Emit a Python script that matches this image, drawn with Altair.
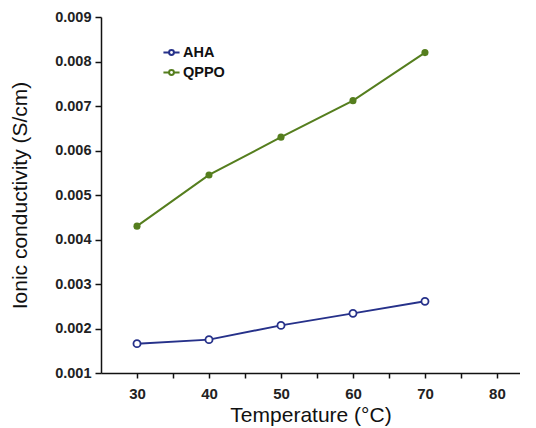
import altair as alt
import pandas as pd

temps = [30, 40, 50, 60, 70]
aha = [0.00166, 0.00175, 0.00207, 0.00234, 0.00261]
qppo = [0.00430, 0.00545, 0.00630, 0.00712, 0.00820]
series = ["AHA", "QPPO"]
colors = ["#26318A", "#557E1E"]
x_ticks = [30, 35, 40, 45, 50, 55, 60, 65, 70, 75, 80]
y_ticks = [0.001, 0.002, 0.003, 0.004, 0.005, 0.006, 0.007, 0.008, 0.009]

df = pd.DataFrame(
    {"T": temps * 2, "sigma": aha + qppo, "series": ["AHA"] * len(temps) + ["QPPO"] * len(temps)}
)

FONT = "Liberation Sans"
LEGEND_SYMBOL = (
    "M-1,0H-0.3M0.3,0H1"
    "M-0.3,0A0.3,0.3 0 1,0 0.3,0A0.3,0.3 0 1,0 -0.3,0"
)

x = alt.X(
    "T:Q",
    scale=alt.Scale(domain=[25, 83.2], nice=False, zero=False),
    axis=alt.Axis(
        values=x_ticks,
        labelExpr="datum.value % 10 == 0 ? datum.label : ''",
        title="Temperature (°C)",
        grid=False,
        tickSize=5,
        tickWidth=1.5,
        domainWidth=1.5,
        domainColor="#111",
        tickColor="#111",
        labelFont=FONT,
        labelFontSize=15,
        labelFontWeight="bold",
        labelColor="#222",
        labelPadding=8,
        titleFont=FONT,
        titleFontSize=21,
        titleFontWeight="normal",
        titleColor="#111",
        titlePadding=3,
    ),
)
y = alt.Y(
    "sigma:Q",
    scale=alt.Scale(domain=[0.001, 0.009], nice=False, zero=False),
    axis=alt.Axis(
        values=y_ticks,
        format=".3f",
        title="Ionic conductivity (S/cm)",
        grid=False,
        tickSize=6,
        tickWidth=1.5,
        domainWidth=1.5,
        domainColor="#111",
        tickColor="#111",
        labelFont=FONT,
        labelFontSize=14.5,
        labelFontWeight="bold",
        labelColor="#222",
        labelPadding=4,
        titleFont=FONT,
        titleFontSize=21,
        titleFontWeight="normal",
        titleColor="#111",
        titlePadding=24,
    ),
)
color = alt.Color(
    "series:N",
    scale=alt.Scale(domain=series, range=colors),
    legend=alt.Legend(
        title=None,
        orient="none",
        legendX=61,
        legendY=26,
        symbolType=LEGEND_SYMBOL,
        symbolStrokeWidth=2,
        symbolSize=260,
        labelFont=FONT,
        labelFontSize=14.5,
        labelFontWeight="bold",
        labelColor="#111",
        rowPadding=4,
        labelOffset=2,
    ),
)

base = alt.Chart(df)
lines = base.mark_line(strokeWidth=2).encode(x=x, y=y, color=color)
pts_aha = base.transform_filter(alt.datum.series == "AHA").mark_point(
    filled=True, fill="white", stroke=colors[0], strokeWidth=1.8, size=50, opacity=1
).encode(x=x, y=y)
pts_q = base.transform_filter(alt.datum.series == "QPPO").mark_point(
    filled=True, color=colors[1], size=50, opacity=1
).encode(x=x, y=y)

chart = (
    alt.layer(lines, pts_aha, pts_q)
    .properties(
        width=419,
        height=356,
        autosize=alt.AutoSizeParams(type="none"),
        padding={"left": 93, "top": 9, "right": 0, "bottom": 53},
        background="white",
    )
    .configure_view(stroke=None)
)

chart.save("out.html", embed_options={"renderer": "svg", "actions": False})
